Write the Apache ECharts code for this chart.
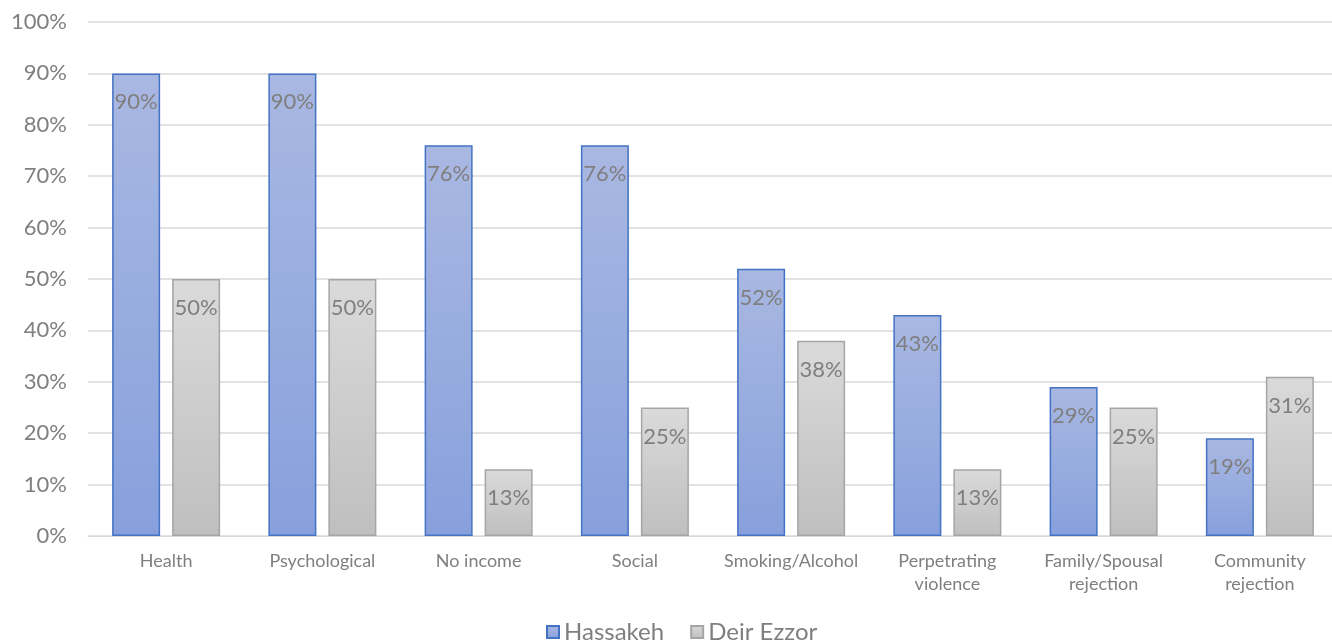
<!DOCTYPE html>
<html><head><meta charset="utf-8">
<script src="https://cdn.jsdelivr.net/npm/echarts@6/dist/echarts.min.js"></script>
<style>html,body{margin:0;padding:0;background:#fff;overflow:hidden}#c{width:1340px;height:643px}</style>
</head><body><div id="c"></div>
<script>
const categories = ['Health','Psychological','No income','Social','Smoking/Alcohol','Perpetrating\nviolence','Family/Spousal\nrejection','Community\nrejection'];
const hassakeh = [90,90,76,76,52,43,29,19];
const deirEzzor = [50,50,13,25,38,13,25,31];
const seriesNames = ['Hassakeh','Deir Ezzor'];
const FONT = 'Lato, "Noto Sans", sans-serif';
const chart = echarts.init(document.getElementById('c'));
const lbl = {show:true, position:'insideTop', distance:18, formatter:'{c}%', color:'#7f7f7f', fontSize:22, fontFamily:FONT};
chart.setOption({
  animation:false,
  grid:{left:88, right:2, top:22, bottom:107, containLabel:false},
  legend:{bottom:-6, left:541, itemWidth:12, itemHeight:12, itemGap:26,
    textStyle:{color:'#7f7f7f', fontSize:24, fontFamily:FONT},
    data:[{name:'Hassakeh', icon:'rect'},{name:'Deir Ezzor', icon:'rect'}]},
  xAxis:{type:'category', data:categories,
    axisLine:{lineStyle:{color:'#d9d9d9', width:1}}, axisTick:{show:false},
    axisLabel:{color:'#7f7f7f', fontSize:18, fontFamily:FONT, margin:14, lineHeight:23, interval:0}},
  yAxis:{type:'value', min:0, max:100, interval:10,
    axisLabel:{formatter:'{value}%', color:'#7f7f7f', fontSize:22, fontFamily:FONT, margin:21},
    splitLine:{lineStyle:{color:'#d9d9d9', width:1.5}}, axisLine:{show:false}, axisTick:{show:false}},
  series:[
    {name:seriesNames[0], type:'bar', data:hassakeh, barWidth:48, barGap:'25%', label:lbl,
     itemStyle:{borderColor:'#4472c4', borderWidth:1.5,
       color:new echarts.graphic.LinearGradient(0,0,0,1,[{offset:0,color:'#a9b8e2'},{offset:1,color:'#87a0dc'}])}},
    {name:seriesNames[1], type:'bar', data:deirEzzor, barWidth:48, label:lbl,
     itemStyle:{borderColor:'#a5a5a5', borderWidth:1.5,
       color:new echarts.graphic.LinearGradient(0,0,0,1,[{offset:0,color:'#dadada'},{offset:1,color:'#bfbfbf'}])}}
  ]
});
</script></body></html>
